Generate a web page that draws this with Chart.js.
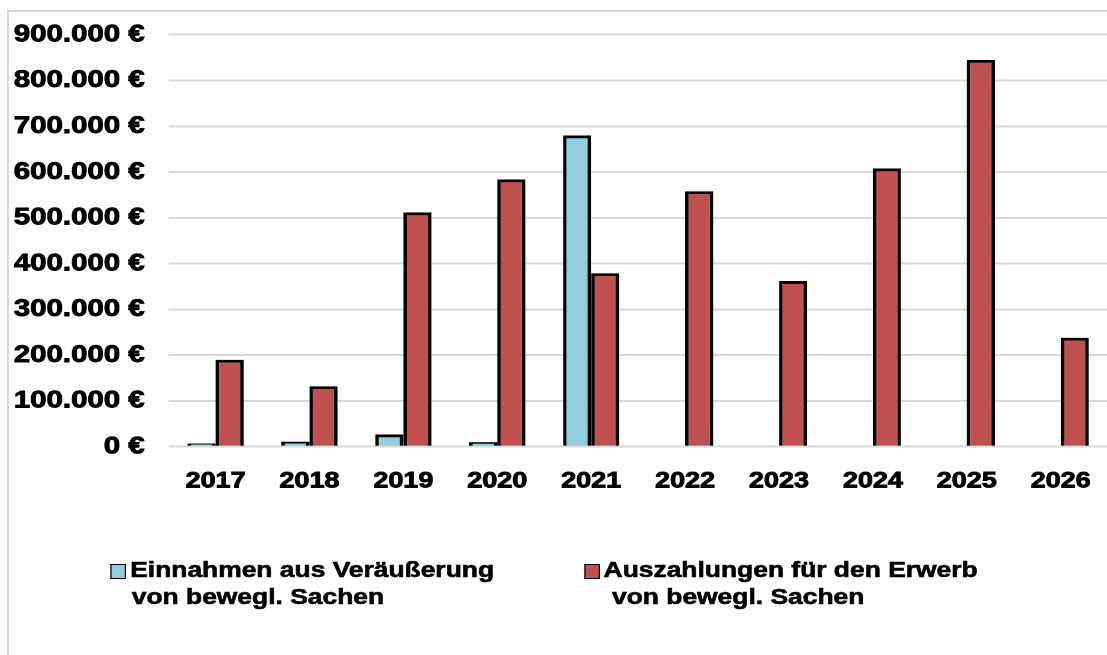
<!DOCTYPE html>
<html>
<head>
<meta charset="utf-8">
<script src="https://cdn.jsdelivr.net/npm/chart.js@4"></script>
<style>
  html, body { margin: 0; padding: 0; background: #fff; overflow: hidden; }
  #frame { position: absolute; left: 7px; top: 10px; width: 1200px; height: 700px;
           border-left: 2px solid #d9d9d9; border-top: 2px solid #d9d9d9; }
  /* the original picture is stretched horizontally, so the whole chart is too */
  #wrap { position: absolute; left: 0; top: 0; width: 923px; height: 655px;
          transform: scaleX(1.2); transform-origin: 0 0; }
  #chart { position: absolute; left: 0; top: 0; }
  .item { position: absolute; top: 555.6px; font: bold 22px "Liberation Sans", Arial, sans-serif;
          line-height: 27px; color: #000; white-space: nowrap; -webkit-text-stroke: 0.6px #000; }
  .box { position: absolute; top: 8px; width: 12.5px; height: 15px; box-sizing: border-box;
         border: 1.5px solid #000; }
</style>
</head>
<body>
<div id="frame"></div>
<div id="wrap">
  <canvas id="chart" width="923" height="655"></canvas>
  <div id="legend"></div>
</div>
<script>
// data
const years = ["2017", "2018", "2019", "2020", "2021", "2022", "2023", "2024", "2025", "2026"];
const einnahmen = [7000, 11000, 27000, 10000, 680000, null, null, null, null, null];
const auszahlungen = [190000, 132000, 512000, 584000, 379000, 558000, 362000, 608000, 845000, 238000];
const einnahmenLabel = ["Einnahmen aus Veräußerung", "von bewegl. Sachen"];
const auszahlungenLabel = ["Auszahlungen für den Erwerb", "von bewegl. Sachen"];
const colors = ["#92cddc", "#c0504d"];

const yMax = 900000;
const yStep = 100000;

function euro(v) {
    return String(v).replace(/\B(?=(\d{3})+(?!\d))/g, ".") + " €";
}

Chart.defaults.font.family = '"Liberation Sans", Arial, sans-serif';
Chart.defaults.color = "#000";

new Chart(document.getElementById("chart"), {
    type: "bar",
    data: {
        labels: years,
        datasets: [{
            label: einnahmenLabel.join(" "),
            data: einnahmen,
            backgroundColor: colors[0],
            borderColor: "#000",
            borderWidth: 3
        }, {
            label: auszahlungenLabel.join(" "),
            data: auszahlungen,
            backgroundColor: colors[1],
            borderColor: "#000",
            borderWidth: 3
        }]
    },
    options: {
        responsive: false,
        devicePixelRatio: 2,
        animation: false,
        categoryPercentage: 0.6,
        barPercentage: 1.0,
        layout: { padding: { top: 32, left: 0, right: 0, bottom: 148.3 } },
        plugins: { legend: { display: false }, tooltip: { enabled: false } },
        scales: {
            x: {
                grid: { display: false },
                border: { display: false },
                ticks: {
                    font: { size: 22.5, weight: "bold" },
                    padding: 13,
                    color: "#000",
                    textStrokeColor: "#000",
                    textStrokeWidth: 0.9
                },
                afterFit: function(scale) { scale.height = 60; }
            },
            y: {
                min: 0,
                max: yMax,
                grid: { color: "#d9d9d9", lineWidth: 2, drawTicks: false },
                border: { display: false },
                ticks: {
                    stepSize: yStep,
                    padding: 20,
                    color: "#000",
                    font: { size: 24.5, weight: "bold" },
                    textStrokeColor: "#000",
                    textStrokeWidth: 0.9,
                    callback: function(v) { return euro(v); }
                },
                afterFit: function(scale) { scale.width = 140.5; }
            }
        }
    }
});

// legend with two-line entries
const legendItems = [
    { lines: einnahmenLabel, color: colors[0], left: 108.5, indent: 1.3, boxLeft: 92 },
    { lines: auszahlungenLabel, color: colors[1], left: 503, indent: 7, boxLeft: 487 }
];
const legend = document.getElementById("legend");
legendItems.forEach(function(it) {
    const div = document.createElement("div");
    div.className = "item";
    div.style.left = it.left + "px";
    const box = document.createElement("div");
    box.className = "box";
    box.style.left = (it.boxLeft - it.left) + "px";
    box.style.background = it.color;
    div.appendChild(box);
    it.lines.forEach(function(t, i) {
        const line = document.createElement("div");
        line.textContent = t;
        if (i > 0) line.style.marginLeft = it.indent + "px";
        div.appendChild(line);
    });
    legend.appendChild(div);
});
</script>
</body>
</html>
